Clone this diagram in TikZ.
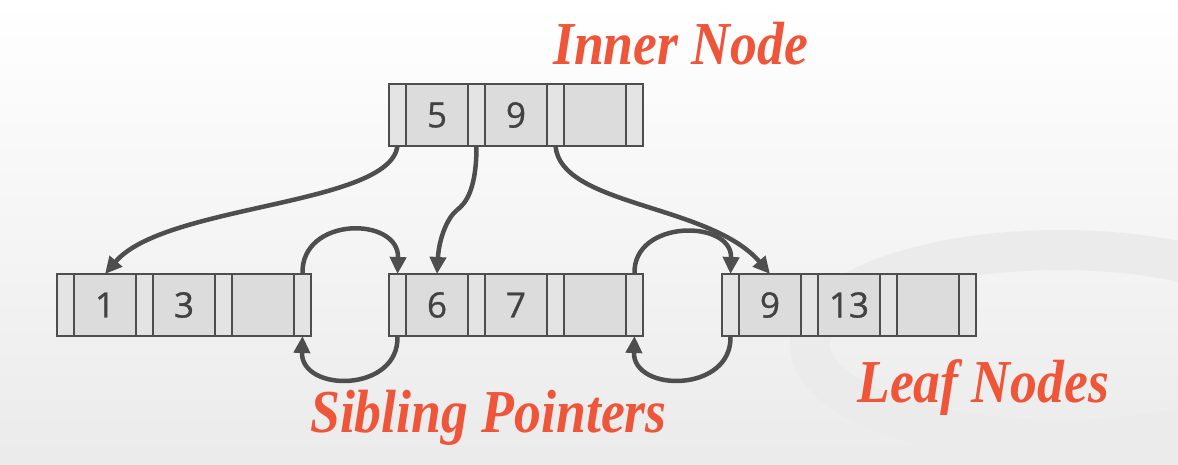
\documentclass[tikz,border=0pt]{standalone}
\usepackage{fontspec}
\setmainfont{Liberation Serif}
\newfontfamily\numfont[FakeBold=0.9]{Open Sans}
\newfontfamily\lblfont[FakeStretch=0.88]{Liberation Serif}
\usetikzlibrary{arrows.meta}
\definecolor{lbl}{RGB}{238,85,57}
\definecolor{edge}{RGB}{78,78,78}
\definecolor{keyfill}{RGB}{220,220,220}
\definecolor{ptrfill}{RGB}{228,228,228}
\definecolor{numcol}{RGB}{66,66,66}
\tikzset{
  cellbase/.style={draw=edge, line width=2.5pt, outer sep=0pt, inner sep=0pt, minimum height=62pt, anchor=north west},
  ptr/.style={cellbase, fill=ptrfill, minimum width=17pt},
  key/.style={cellbase, fill=keyfill, minimum width=62pt, font=\numfont\fontsize{35}{40}\selectfont, text=numcol},
  link/.style={draw=edge, line width=4.5pt, -{Triangle[length=17pt,width=16pt]}},
  label/.style={text=lbl, font=\lblfont\bfseries\itshape\fontsize{61}{66}\selectfont, inner sep=0pt, anchor=base west},
}
\newcommand\bptnode[6]{%
  \node[ptr] (#1p0) at (#2,#3) {};
  \node[key] (#1k1) at (#1p0.north east) {#4};
  \node[ptr] (#1p1) at (#1k1.north east) {};
  \node[key] (#1k2) at (#1p1.north east) {#5};
  \node[ptr] (#1p2) at (#1k2.north east) {};
  \node[key] (#1k3) at (#1p2.north east) {#6};
  \node[ptr] (#1p3) at (#1k3.north east) {};
}
\begin{document}
\begin{tikzpicture}[x=1pt,y=-1pt]
\useasboundingbox (0,0) rectangle (1178,465);
\shade[top color=white, bottom color=black!8] (0,0) rectangle (1178,465);
\begin{scope}
\clip (0,0) rectangle (1178,465);
\draw[black!8, line width=40pt] (1060,345) ellipse [x radius=250, y radius=95];
\end{scope}

\bptnode{in}{389}{84}{5}{9}{}
\bptnode{la}{57}{274}{1}{3}{}
\bptnode{lb}{389}{274}{6}{7}{}
\bptnode{lc}{722}{274}{9}{13}{}

\coordinate (kink) at (457,210);

\draw[link] (inp0.south) .. controls +(-8,60) and +(60,-70) .. (lak1.north);
\draw[draw=edge, line width=4.5pt] (inp1.south) .. controls +(0,45) and +(8,-6) .. (kink);
\draw[link] (kink) .. controls +(-10,8) and +(2,-35) .. (lbk1.north);
\draw[link] (inp2.south) .. controls +(5,60) and +(-60,-70) .. (lck1.north);

\draw[link] (lap3.north) .. controls +(-2,-58) and +(2,-58) .. (lbp0.north);
\draw[link] (lbp0.south) .. controls +(2,57) and +(-2,57) .. (lap3.south);
\draw[link] (lbp3.north) .. controls +(-2,-55) and +(2,-55) .. (lcp0.north);
\draw[link] (lcp0.south) .. controls +(2,57) and +(-2,57) .. (lbp3.south);

\node[label] (tin) at (553,65) {Inner Node};
\node[label] (tsib) at (310,432) {Sibling Pointers};
\node[label] (tleaf) at (857,402) {Leaf Nodes};
\end{tikzpicture}
\end{document}
